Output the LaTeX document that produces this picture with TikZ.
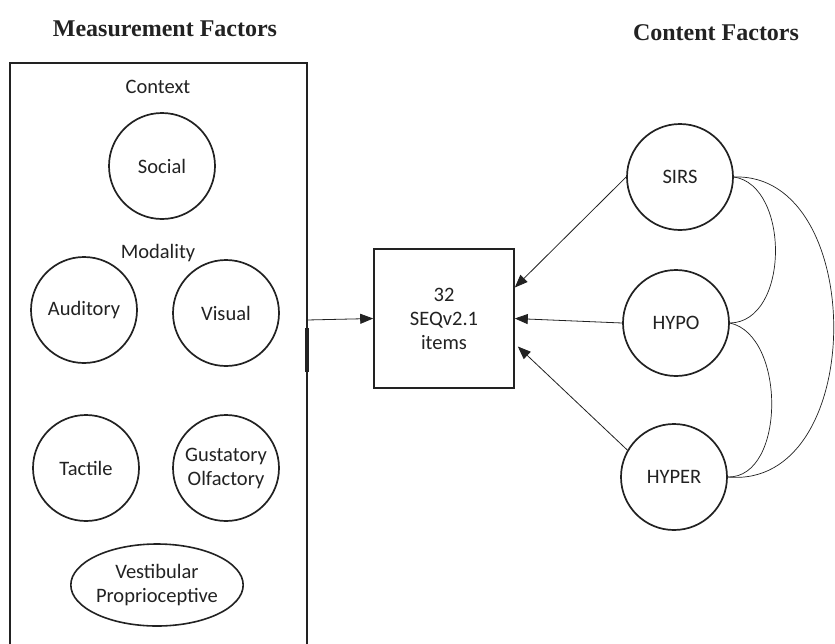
\documentclass[tikz,border=0pt]{standalone}
\usepackage{fontspec}
\setmainfont{Liberation Serif}
\newfontfamily\lblfont{Carlito}
\usetikzlibrary{arrows.meta,calc,shapes.geometric}
\definecolor{ink}{HTML}{222222}
\begin{document}
\begin{tikzpicture}[x=1pt,y=-1pt,
  lbl/.style={font=\lblfont\fontsize{20.5}{24}\selectfont, text=ink},
  factor/.style={lbl, draw=ink, line width=1.7pt, circle, minimum size=106pt, inner sep=0pt, align=center},
  ttl/.style={font=\bfseries\fontsize{24}{26}\selectfont, text=ink},
  conn/.style={draw=ink, line width=0.8pt, -{Triangle[length=13pt,width=10pt]}},
  corr/.style={draw=ink, line width=0.7pt}]
\useasboundingbox (0,0) rectangle (835,643);
\clip (0,0) rectangle (835,643);
\fill[white] (0,0) rectangle (835,643);

\node[ttl] (tm) at (165,29) {Measurement Factors};
\node[ttl] (tc) at (716,33) {Content Factors};

% left measurement box
\draw[ink, line width=1.6pt] (10,660) -- (10,63) -- (307,63) -- (307,660);
\draw[ink, line width=3.5pt] (307,328) -- (307,372);
\coordinate (mout) at (307,320);

\node[lbl] (ctx) at (158,87) {Context};
\node[factor] (social) at (162,166) {Social};
\node[lbl] (mod) at (158,253) {Modality};
\node[factor] (aud) at (84,310) {Auditory};
\node[factor] (vis) at (226,313) {Visual};
\node[factor] (tac) at (86,468) {Tactile};
\node[factor] (gus) at (226,468) {Gustatory\\Olfactory};
\node[lbl, draw=ink, line width=1.6pt, ellipse, minimum width=161pt, minimum height=82pt, inner sep=0pt, align=center] (ves) at (157,585) {Vestibular\\Proprioceptive};

% center items box
\node[lbl, draw=ink, line width=1.6pt, minimum width=140pt, minimum height=139pt, inner sep=0pt, align=center] (items) at (444,318.5) {32\\SEQv2.1\\items};

% content factors
\node[factor] (sirs) at (680,177) {SIRS};
\node[factor] (hypo) at (676,323) {HYPO};
\node[factor] (hyper) at (674,477) {HYPER};

% arrows
\draw[conn] (mout) -- (items.west);
\draw[conn] (sirs.west) -- ($(items.east)+(0,-31)$);
\draw[conn] (hypo.west) -- (items.east);
\draw[conn] (hyper.150) -- ($(items.east)+(3,28)$);

% correlations
\draw[corr] (sirs.east) .. controls (790,185) and (790,322) .. (hypo.east);
\draw[corr] (hypo.east) .. controls (786,335) and (786,478) .. (hyper.east);
\draw[corr] (sirs.east) .. controls (868,172) and (868,490) .. (hyper.east);
\end{tikzpicture}
\end{document}
